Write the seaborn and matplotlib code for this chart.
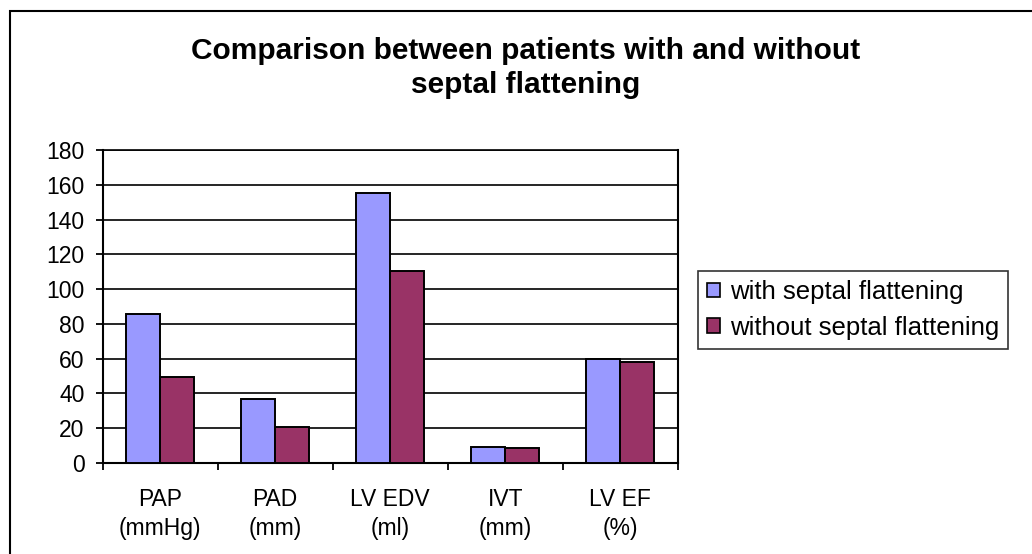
import pandas as pd
import matplotlib.pyplot as plt
import seaborn as sns
from matplotlib.patches import Rectangle
from matplotlib.ticker import FixedLocator

categories = ['PAP\n(mmHg)', 'PAD\n(mm)', 'LV EDV\n(ml)', 'IVT\n(mm)', 'LV EF\n(%)']
with_flat = [85.5, 36.5, 155.6, 9.2, 59.7]
without_flat = [49.6, 20.7, 110.6, 8.3, 58.2]
series_names = ['with septal flattening', 'without septal flattening']
colors = ['#9999FF', '#993366']

df = pd.DataFrame({
    'Parameter': categories * 2,
    'Value': with_flat + without_flat,
    'Group': [series_names[0]] * len(categories) + [series_names[1]] * len(categories),
})

sns.set_style('white')
plt.rcParams['font.family'] = ['Liberation Sans', 'DejaVu Sans']
plt.rcParams['text.color'] = 'black'
plt.rcParams['xtick.color'] = 'black'
plt.rcParams['ytick.color'] = 'black'

fig = plt.figure(figsize=(10.32, 5.54), dpi=100)
ax = fig.add_axes([0.0995, 0.1648, 0.5572, 0.5639])

sns.barplot(data=df, x='Parameter', y='Value', hue='Group', palette=colors,
            saturation=1, width=0.59, gap=0, edgecolor='black', linewidth=1.4, ax=ax,
            errorbar=None, zorder=3)

ax.set_xlim(-0.5, 4.5)
ax.set_ylim(0, 180)
ax.set_yticks(range(0, 181, 20))
ax.yaxis.grid(True, color='black', linewidth=1.2, zorder=0)
ax.set_axisbelow(True)
ax.set_xlabel('')
ax.set_ylabel('')
for s in ax.spines.values():
    s.set_color('black')
    s.set_linewidth(1.5)
ax.spines['top'].set_linewidth(1.2)

ax.tick_params(axis='y', left=True, length=5, width=1.3, pad=8, labelsize=16.5)
ax.tick_params(axis='x', which='major', length=0, pad=18, labelsize=16.5)
ax.xaxis.set_minor_locator(FixedLocator([-0.5, 0.5, 1.5, 2.5, 3.5, 4.5]))
ax.tick_params(axis='x', which='minor', bottom=True, length=5, width=1.3)
for lbl in ax.get_xticklabels():
    lbl.set_linespacing(1.35)

ax.legend_.remove()
handles = [Rectangle((0, 0), 1, 1, facecolor=c, edgecolor='black', linewidth=1.2) for c in colors]
leg = fig.legend(handles, series_names, loc='upper left', bbox_to_anchor=(698 / 1032, 1 - 271 / 554),
                 frameon=True, fontsize=18.5, handlelength=0.5, handleheight=0.5,
                 handletextpad=0.4, borderpad=0.35, labelspacing=0.45,
                 fancybox=False, edgecolor='black', borderaxespad=0)
leg.get_frame().set_linewidth(1.2)

fig.text(0.509, 1 - 68 / 554, 'Comparison between patients with and without\nseptal flattening',
         ha='center', va='center', fontsize=21.5, fontweight='bold', linespacing=1.3)

fig.patches.append(Rectangle((10 / 1032, -0.1), 2, 1.1 - 11 / 554,
                             transform=fig.transFigure, fill=False, edgecolor='black',
                             linewidth=1.5, clip_on=False))

plt.savefig('out.png', dpi=100)
